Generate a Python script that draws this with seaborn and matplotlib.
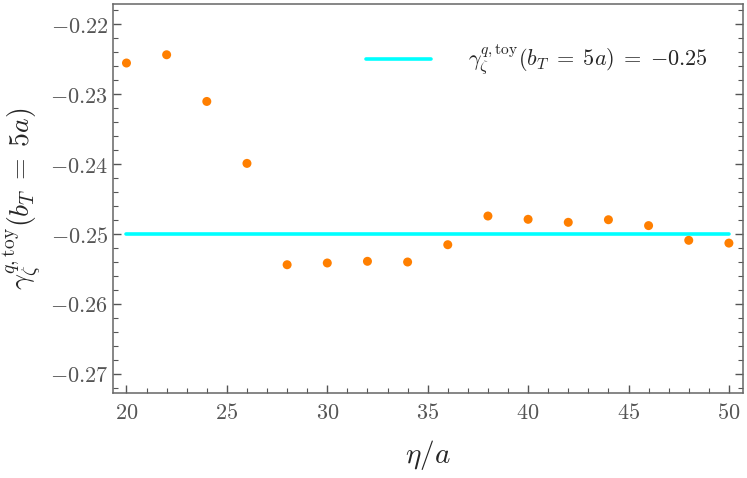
import numpy as np
import pandas as pd
import seaborn as sns
import matplotlib.pyplot as plt
from matplotlib.ticker import MultipleLocator, FuncFormatter

# data
eta = [20, 22, 24, 26, 28, 30, 32, 34, 36, 38, 40, 42, 44, 46, 48, 50]
gamma = [-0.22557, -0.22439, -0.23106, -0.23991, -0.25439, -0.25414, -0.2539, -0.2540,
         -0.25153, -0.24743, -0.2479, -0.24833, -0.24796, -0.2488, -0.2509, -0.2513]
line_x = [20, 50]
line_y = [-0.25, -0.25]
line_label = r'$\gamma_\zeta^{q,\mathrm{toy}}(b_T\;=\;5a)\;=\;{-}0.25$'

sns.set_style("ticks")
plt.rcParams['mathtext.fontset'] = 'cm'
plt.rcParams['font.family'] = ['DejaVu Serif']

fig = plt.figure(figsize=(7.47, 4.78), dpi=100)
ax = fig.add_axes([0.1513, 0.1785, 0.9946 - 0.1513, 0.9916 - 0.1785])

df = pd.DataFrame({'eta': eta, 'gamma': gamma})
sns.lineplot(x=line_x, y=line_y, color='#00FFFF', lw=2.6, ax=ax, label=line_label, zorder=2)
sns.scatterplot(data=df, x='eta', y='gamma', color='#FF7F00', s=42, edgecolor='none', ax=ax, zorder=3)

ax.set_xlim(19.33, 50.7)
ax.set_ylim(-0.27267, -0.21714)

gray = '#555555'
for sp in ax.spines.values():
    sp.set_color('#666666')
    sp.set_linewidth(1.1)

ax.xaxis.set_major_locator(MultipleLocator(5))
ax.xaxis.set_minor_locator(MultipleLocator(1))
ax.yaxis.set_major_locator(MultipleLocator(0.01))
ax.yaxis.set_minor_locator(MultipleLocator(0.002))
ax.xaxis.set_major_formatter(FuncFormatter(lambda v, p: r'$%d$' % round(v)))
ax.yaxis.set_major_formatter(FuncFormatter(lambda v, p: r'$%.2f$' % v))
ax.tick_params(which='both', direction='in', colors=gray, labelsize=16, top=False, right=True)
ax.tick_params(which='major', length=6, width=1)
ax.tick_params(which='minor', length=3.5, width=0.8)
ax.tick_params(axis='x', pad=7)

ax.set_xlabel(r'$\eta/a$', fontsize=21, labelpad=10)
ax.set_ylabel(r'$\gamma_\zeta^{q,\mathrm{toy}}(b_T\;=\;5a)$', fontsize=20, labelpad=5)

ax.legend(loc='center left', bbox_to_anchor=(0.37, 0.855), frameon=False, fontsize=16,
          handlelength=2.9, handletextpad=1.7)

fig.savefig('out.png', dpi=100)
